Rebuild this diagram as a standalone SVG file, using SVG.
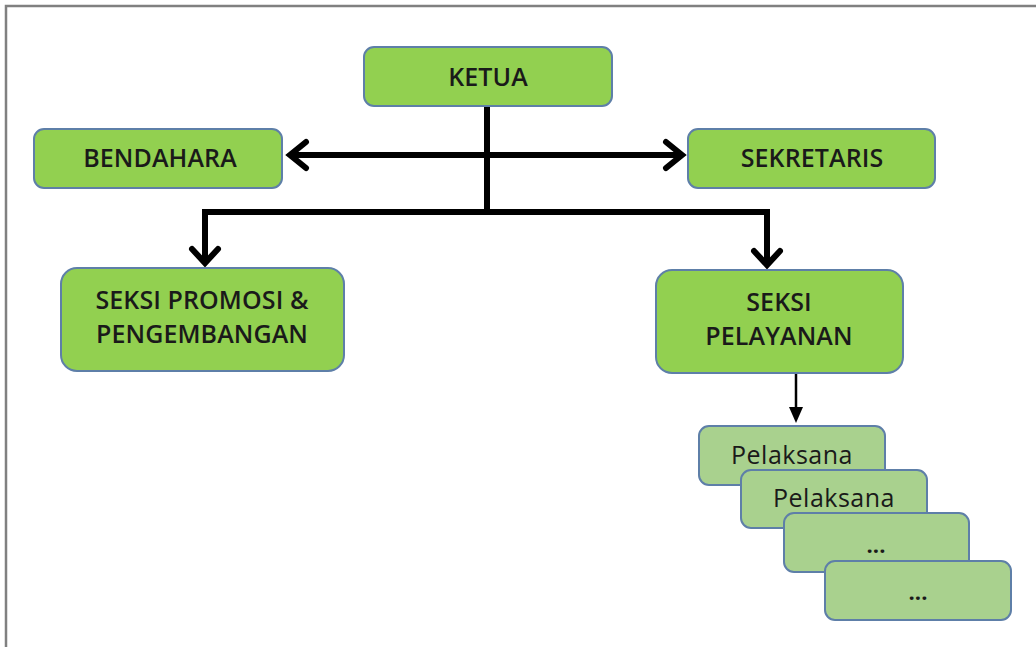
<svg xmlns="http://www.w3.org/2000/svg" width="1036" height="647" viewBox="0 0 1036 647">
<style>
.box{fill:#92D050;stroke:#5E7FA8;stroke-width:2}
.sub{fill:#A9D18E;stroke:#5E7FA8;stroke-width:2}
.t{font-family:"Open Sans","Liberation Sans",sans-serif;font-size:25px;font-weight:600;letter-spacing:0.1px;fill:#1a1a1a;text-anchor:middle}
.p{font-weight:400;letter-spacing:0.5px}
.d{font-weight:700;font-size:22px}
.thick{fill:none;stroke:#000;stroke-width:6}
.chev{fill:none;stroke:#000;stroke-width:6;stroke-linecap:round;stroke-linejoin:miter}
</style>
<rect width="1036" height="647" fill="#fff"/>
<path d="M6,647 V6 H1036" fill="none" stroke="#808080" stroke-width="2.5"/>
<g id="connectors">
<path class="thick" d="M487,106 V212"/>
<path class="thick" d="M290,155 H682"/>
<polyline class="chev" points="306,142 290,155 306,168"/>
<polyline class="chev" points="666,142 682,155 666,168"/>
<path class="thick" d="M205,212 H767"/>
<path class="thick" d="M205,209 V262"/>
<path class="thick" d="M767,209 V264"/>
<polyline class="chev" points="192,249 205,263 218,249"/>
<polyline class="chev" points="754,251 767,265 780,251"/>
<path d="M796,373 V408" stroke="#000" stroke-width="2.5"/>
<path d="M789,407 L796,423 L803,407 Z" fill="#000"/>
</g>
<g id="ketua"><rect class="box" x="364" y="47" width="248" height="59" rx="10"/><text class="t" x="488" y="86">KETUA</text></g>
<g id="bendahara"><rect class="box" x="34" y="129" width="248" height="59" rx="10"/><text class="t" x="160" y="167">BENDAHARA</text></g>
<g id="sekretaris"><rect class="box" x="688" y="129" width="247" height="59" rx="10"/><text class="t" x="812" y="167">SEKRETARIS</text></g>
<g id="promosi"><rect class="box" x="61" y="268" width="283" height="103" rx="16"/><text class="t" x="202" y="309">SEKSI PROMOSI &amp;</text><text class="t" x="202" y="343">PENGEMBANGAN</text></g>
<g id="pelayanan"><rect class="box" x="656" y="270" width="247" height="103" rx="16"/><text class="t" x="779" y="311">SEKSI</text><text class="t" x="779" y="345">PELAYANAN</text></g>
<g id="pelaksana1"><rect class="sub" x="699" y="426" width="186" height="59" rx="10"/><text class="t p" x="792" y="464">Pelaksana</text></g>
<g id="pelaksana2"><rect class="sub" x="741" y="470" width="186" height="58" rx="10"/><text class="t p" x="834" y="507">Pelaksana</text></g>
<g id="pelaksana3"><rect class="sub" x="784" y="513" width="185" height="59" rx="10"/><text class="t d" x="876" y="553">...</text></g>
<g id="pelaksana4"><rect class="sub" x="825" y="561" width="186" height="59" rx="10"/><text class="t d" x="918" y="600">...</text></g>
</svg>
